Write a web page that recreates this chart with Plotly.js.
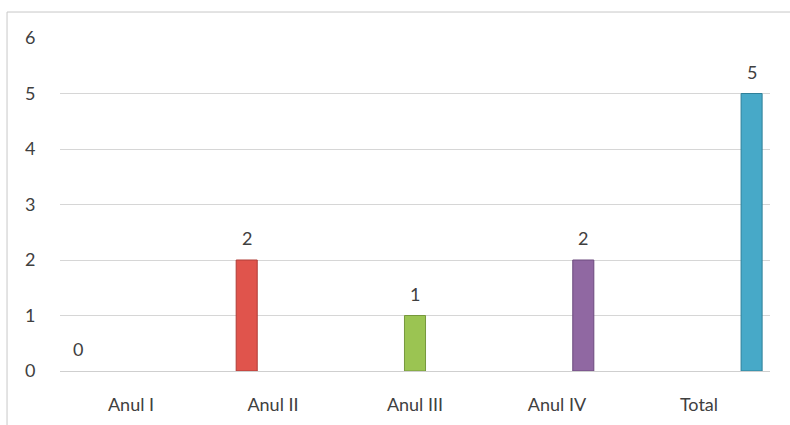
<!DOCTYPE html>
<html>
<head>
<meta charset="utf-8">
<script src="https://cdn.plot.ly/plotly-3.0.1.min.js"></script>
<style>html,body{margin:0;padding:0;background:#fff;}#chart{width:790px;height:425px;}</style>
</head>
<body>
<div id="chart"></div>
<script>
var categories = ["Anul I", "Anul II", "Anul III", "Anul IV", "Total"];
var values = [0, 2, 1, 2, 5];
var colors = ["#4F81BD", "#E0544C", "#9BC452", "#9068A2", "#47A9C8"];
var lineColors = ["#3a6496", "#b03c36", "#76983c", "#6c4a7e", "#2f8099"];

var FONT = "Lato, 'Open Sans', sans-serif";
var TEXTCOLOR = "#404040";

var traces = categories.map(function (cat, i) {
  var y = categories.map(function (c, j) { return j === i ? values[i] : null; });
  return {
    type: "bar",
    name: cat,
    x: categories,
    y: y,
    marker: {color: colors[i], line: {color: lineColors[i], width: values[i] === 0 ? 0 : 1}},
    hoverinfo: "x+y"
  };
});

var nSeries = categories.length;
var bargap = 0.074;
var bargroupgap = 0.2;
var catWidthPx = 710 / nSeries;
var slotPx = catWidthPx * (1 - bargap) / nSeries;

var annotations = categories.map(function (cat, i) {
  return {
    x: cat,
    y: values[i],
    xref: "x",
    yref: "y",
    text: String(values[i]),
    showarrow: false,
    xanchor: "center",
    yanchor: "middle",
    xshift: (i - (nSeries - 1) / 2) * slotPx,
    yshift: 22,
    font: {family: FONT, size: 18, color: TEXTCOLOR}
  };
});

var layout = {
  width: 790,
  height: 425,
  margin: {l: 60, r: 20, t: 38, b: 54},
  paper_bgcolor: "#ffffff",
  plot_bgcolor: "#ffffff",
  barmode: "group",
  bargap: bargap,
  bargroupgap: bargroupgap,
  showlegend: false,
  font: {family: FONT, size: 18, color: TEXTCOLOR},
  xaxis: {
    type: "category",
    showgrid: false,
    showline: false,
    zeroline: false,
    ticks: "outside",
    ticklen: 17,
    tickcolor: "rgba(0,0,0,0)",
    tickfont: {family: FONT, size: 18, color: TEXTCOLOR}
  },
  yaxis: {
    range: [0, 6],
    dtick: 1,
    showgrid: true,
    gridcolor: "#d6d6d6",
    gridwidth: 1,
    zeroline: true,
    zerolinecolor: "#cfcfcf",
    zerolinewidth: 1,
    showline: false,
    ticks: "outside",
    ticklen: 20,
    tickcolor: "rgba(0,0,0,0)",
    tickfont: {family: FONT, size: 18, color: TEXTCOLOR}
  },
  annotations: annotations,
  shapes: [{
    type: "rect",
    xref: "paper", yref: "paper",
    x0: -0.0746, x1: 1.04, y0: -0.2, y1: 1.078,
    line: {color: "#c8c8c8", width: 1},
    fillcolor: "rgba(0,0,0,0)",
    layer: "below"
  }]
};

Plotly.newPlot("chart", traces, layout, {displayModeBar: false, staticPlot: true});
</script>
</body>
</html>
